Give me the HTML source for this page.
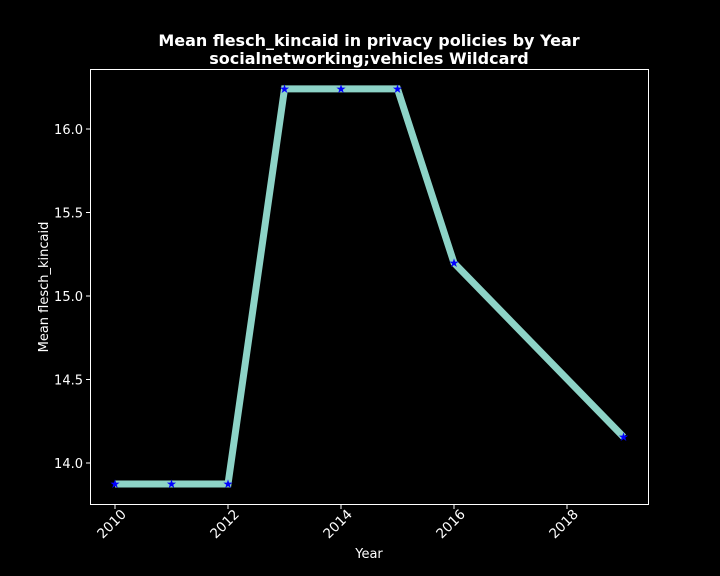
<!DOCTYPE html>
<html><head><meta charset="utf-8"><style>
body{margin:0;background:#000;}
svg{display:block;font-family:"DejaVu Sans","Liberation Sans",sans-serif;}
</style></head><body>
<svg id="chart" width="720" height="576">
<rect width="720" height="576" fill="#000"/>
<text x="369" y="46" text-anchor="middle" fill="#fff" font-size="16" font-weight="bold">Mean flesch_kincaid in privacy policies by Year</text>
<text x="369" y="64" text-anchor="middle" fill="#fff" font-size="16" font-weight="bold">socialnetworking;vehicles Wildcard</text>
<rect x="90.5" y="69.5" width="558" height="435" fill="none" stroke="#fff" stroke-width="1"/>
<text x="369" y="558" text-anchor="middle" fill="#fff" font-size="13">Year</text>
<text transform="translate(48,287) rotate(-90)" text-anchor="middle" fill="#fff" font-size="13">Mean flesch_kincaid</text>
<g id="ticks"></g>
<g id="series"></g>
</svg>
<script>
const years=[2010,2011,2012,2013,2014,2015,2016,2019];
const values=[13.874,13.874,13.874,16.24,16.24,16.24,15.198,14.156];
const xTicks=[2010,2012,2014,2016,2018];
const yTicks=[14.0,14.5,15.0,15.5,16.0];
const NS="http://www.w3.org/2000/svg";
const xs=v=>115+(v-2010)*56.5;
const ys=v=>463-(v-14)*167;
function mk(t,a,p){const e=document.createElementNS(NS,t);for(const k in a)e.setAttribute(k,a[k]);p.appendChild(e);return e;}
const tg=document.getElementById('ticks');
xTicks.forEach(t=>{
 const x=xs(t);
 const l=mk('line',{x1:x,x2:x,y1:504.5,y2:509,stroke:'#fff'},tg);
 
 
 const tx=mk('text',{x:0,y:0,fill:'#fff','font-size':13.5,'text-anchor':'end',transform:`translate(${x+12},${515}) rotate(-45)`},tg);
 tx.textContent=t;
 
 
});
yTicks.forEach(t=>{
 const y=ys(t);
 const l=mk('line',{x1:86,x2:90.5,y1:y,y2:y,stroke:'#fff'},tg);
 
 
 const tx=mk('text',{x:83,y:y+5,fill:'#fff','font-size':13,'text-anchor':'end'},tg);
 tx.textContent=t.toFixed(1);
 
 
});
const sg=document.getElementById('series');
const pts=years.map((y,i)=>xs(y)+','+ys(values[i])).join(' ');
const pl=mk('polyline',{points:pts,fill:'none',stroke:'#8dd3c7','stroke-width':7,'stroke-linejoin':'miter'},sg);


years.forEach((y,i)=>{
 const t=mk('text',{x:xs(y),y:ys(values[i])+4,fill:'#0000ff','font-size':12,'text-anchor':'middle'},sg);
 t.textContent='★';
 
 
});
</script>
</body></html>
